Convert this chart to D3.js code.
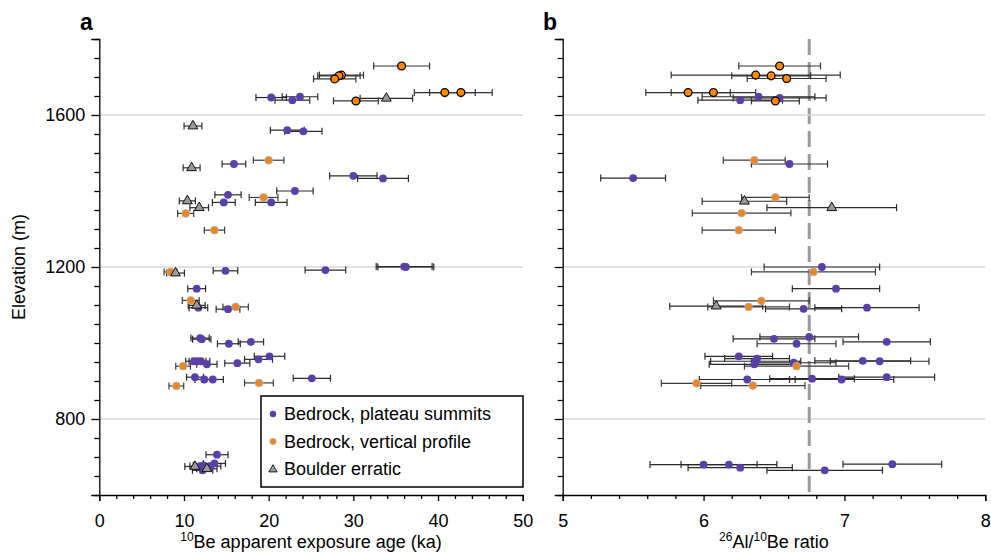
<!DOCTYPE html>
<html>
<head>
<meta charset="utf-8">
<script src="https://cdn.jsdelivr.net/npm/d3@7"></script>
<style>
  body { margin: 0; background: #fff; }
  text { font-family: "Liberation Sans", Arial, sans-serif; }
</style>
</head>
<body>
<div class="chart"></div>
<script>
// Data: [value, elevation (m), uncertainty]

// Panel a: 10Be apparent exposure age (ka)
const plateauA = [
  [20.3, 1646, 1.8], [23.7, 1648, 2.1], [22.8, 1639, 2.05],
  [22.2, 1560, 2.0], [24.1, 1557, 2.2],
  [15.9, 1471, 1.4], [30.0, 1440, 2.8], [33.5, 1433, 3.0],
  [23.1, 1400, 2.15], [15.2, 1390, 1.55], [14.7, 1370, 1.35], [20.3, 1370, 1.87],
  [14.9, 1190, 1.45], [26.7, 1192, 2.4], [36.0, 1201, 3.3], [36.2, 1200, 3.3],
  [11.5, 1143, 1.05], [11.7, 1093, 1.1], [15.2, 1089, 1.4],
  [11.9, 1013, 1.08], [12.1, 1010, 1.08], [15.3, 998, 1.35], [17.9, 1003, 1.5],
  [20.1, 965, 1.8], [18.8, 957, 1.65], [16.3, 947, 1.48],
  [11.2, 952, 1.0], [11.6, 952, 1.0], [12.0, 952, 1.05], [12.7, 944, 1.2],
  [11.3, 910, 1.0], [12.4, 904, 1.1], [13.4, 904, 1.25], [25.1, 907, 2.2],
  [13.9, 706, 1.3], [13.6, 683, 1.3], [13.1, 676, 1.25], [12.3, 678, 1.2],
  [11.9, 676, 1.2], [12.2, 665, 1.2]
];
const profileA = [
  [20.0, 1481, 1.8], [19.4, 1383, 1.7], [10.2, 1341, 0.95], [13.6, 1297, 1.2],
  [8.4, 1187, 0.75], [10.8, 1112, 1.0], [16.1, 1095, 1.5], [9.9, 939, 0.87],
  [9.1, 887, 0.87], [18.85, 895, 1.7]
];
const profileTopA = [
  [35.7, 1729, 3.3], [28.6, 1705, 2.6], [28.3, 1703, 2.5], [27.8, 1695, 2.5],
  [40.8, 1659, 3.6], [42.7, 1659, 3.7], [30.3, 1637, 2.65]
];
const boulderA = [
  [33.9, 1644, 3.1], [11.06, 1571, 1.05], [10.9, 1461, 1.0], [10.4, 1374, 0.95],
  [11.8, 1356, 1.1], [9.0, 1184, 1.05], [11.5, 1099, 1.0], [11.3, 675, 1.2],
  [12.7, 669, 1.2]
];

// Panel b: 26Al/10Be ratio
const plateauB = [
  [6.39, 1648, 0.40], [6.54, 1645, 0.33], [6.26, 1639, 0.30],
  [6.61, 1471, 0.27], [5.50, 1434, 0.23], [6.84, 1200, 0.41], [6.94, 1143, 0.31],
  [6.71, 1090, 0.27], [7.16, 1093, 0.37], [6.50, 1011, 0.29], [6.75, 1016, 0.35],
  [6.66, 998, 0.28], [7.30, 1003, 0.31], [6.25, 965, 0.24], [6.38, 959, 0.23],
  [6.37, 952, 0.32], [6.36, 944, 0.32], [6.64, 948, 0.30], [7.13, 953, 0.34],
  [7.25, 952, 0.35], [6.31, 904, 0.34], [6.77, 906, 0.30], [6.98, 904, 0.37],
  [7.30, 910, 0.34], [6.00, 680, 0.38], [6.18, 680, 0.34], [6.26, 672, 0.37],
  [6.86, 665, 0.41], [7.34, 681, 0.35]
];
const profileB = [
  [6.36, 1481, 0.22], [6.51, 1383, 0.24], [6.27, 1342, 0.35], [6.25, 1297, 0.26],
  [6.78, 1187, 0.44], [6.41, 1111, 0.34], [6.32, 1095, 0.29], [6.66, 939, 0.37],
  [5.95, 894, 0.25], [6.35, 888, 0.37]
];
const profileTopB = [
  [6.54, 1729, 0.29], [6.37, 1705, 0.60], [6.48, 1703, 0.28], [6.59, 1696, 0.28],
  [5.89, 1659, 0.30], [6.07, 1659, 0.30], [6.51, 1637, 0.17]
];
const boulderB = [
  [6.29, 1373, 0.30], [6.91, 1356, 0.46], [6.09, 1097, 0.33]
];

const elevTicks = d3.range(600, 1801, 50);
const elevLabels = [800, 1200, 1600];
const ageTicks = d3.range(0, 50.1, 2);
const ageLabels = [0, 10, 20, 30, 40, 50];
const ratioTicks = d3.range(5, 8.01, 0.2).map((d) => +d.toFixed(1));
const ratioLabels = [5, 6, 7, 8];
const ratioRef = 6.75;
const legendItems = ["Bedrock, plateau summits", "Bedrock, vertical profile", "Boulder erratic"];

// Measurements
const width = 991;
const height = 553;
const purple = "#5940a8";
const orange = "#ec8524";

const svg = d3
  .select(".chart")
  .append("svg")
  .attr("width", width)
  .attr("height", height);

svg.append("rect").attr("width", width).attr("height", height).attr("fill", "#fff");

const y = d3.scaleLinear().domain([600, 1800]).range([495, 39]);
const xA = d3.scaleLinear().domain([0, 50]).range([99.3, 522.7]);
const xB = d3.scaleLinear().domain([5, 8]).range([562.7, 985.3]);

function drawPanel(x, ticks, labels, showYLabels) {
  const [x0, x1] = x.range();
  const g = svg.append("g");

  // gridlines
  g.selectAll(".grid")
    .data(elevLabels)
    .enter()
    .append("line")
    .attr("x1", x0)
    .attr("x2", x1)
    .attr("y1", (d) => y(d))
    .attr("y2", (d) => y(d))
    .attr("stroke", "#d9d9d9")
    .attr("stroke-width", 1.5);

  // y axis
  const yAxis = g
    .append("g")
    .attr("transform", `translate(${x0},0)`)
    .call(
      d3.axisLeft(y)
        .tickValues(elevTicks)
        .tickSizeOuter(0)
        .tickSize(8)
        .tickPadding(6)
        .tickFormat((d) => (showYLabels && elevLabels.includes(d) ? d : ""))
    );
  yAxis.selectAll(".tick line")
    .attr("x2", (d) => (elevLabels.includes(d) ? -8 : -5));

  // x axis
  const xAxis = g
    .append("g")
    .attr("transform", `translate(0,${y.range()[0]})`)
    .call(
      d3.axisBottom(x)
        .tickValues(ticks)
        .tickSizeOuter(0)
        .tickSize(6)
        .tickPadding(13)
        .tickFormat((d) => (labels.includes(d) ? d : ""))
    );
  xAxis.selectAll(".tick line")
    .attr("y2", (d) => (labels.includes(d) ? 6 : 4));

  [yAxis, xAxis].forEach((ax) => {
    ax.selectAll("path, line").attr("stroke", "#000").attr("stroke-width", 1.3);
    ax.selectAll("text")
      .attr("fill", "#000")
      .style("font-size", "18px")
      .style("font-family", '"Liberation Sans", Arial, sans-serif');
  });
  return g;
}

function drawBars(g, x, data, color) {
  const bars = g.append("g").attr("stroke", color).attr("stroke-width", 1.2);
  data.forEach((d) => {
    const yy = y(d[1]);
    const a = x(d[0] - d[2]);
    const b = x(d[0] + d[2]);
    bars.append("line").attr("x1", a).attr("x2", b).attr("y1", yy).attr("y2", yy);
    bars.append("line").attr("x1", a).attr("x2", a).attr("y1", yy - 3.5).attr("y2", yy + 3.5);
    bars.append("line").attr("x1", b).attr("x2", b).attr("y1", yy - 3.5).attr("y2", yy + 3.5);
  });
}

function drawDots(g, x, data, fill, stroke, sw) {
  g.append("g")
    .selectAll("circle")
    .data(data)
    .enter()
    .append("circle")
    .attr("cx", (d) => x(d[0]))
    .attr("cy", (d) => y(d[1]))
    .attr("r", 3.9)
    .attr("fill", fill)
    .attr("stroke", stroke)
    .attr("stroke-width", sw);
}

const tri = d3.symbol().type(d3.symbolTriangle).size(42);

function drawTriangles(g, x, data) {
  g.append("g")
    .selectAll("path")
    .data(data)
    .enter()
    .append("path")
    .attr("d", tri)
    .attr("transform", (d) => `translate(${x(d[0])},${y(d[1])})`)
    .attr("fill", "#9a9a9a")
    .attr("stroke", "#111")
    .attr("stroke-width", 1);
}

function drawSeries(g, x, plateau, profile, boulder, top) {
  drawBars(g, x, plateau, "#2a2a2a");
  drawBars(g, x, profile, "#3a3a3a");
  drawBars(g, x, boulder, "#2a2a2a");
  drawBars(g, x, top, "#333");
  drawDots(g, x, plateau, purple, "none", 0);
  drawDots(g, x, profile, orange, "#b5b5b5", 0.8);
  drawTriangles(g, x, boulder);
  drawDots(g, x, top, "#ff8800", "#000", 1.3);
}

// Panel a
const gA = drawPanel(xA, ageTicks, ageLabels, true);
drawSeries(gA, xA, plateauA, profileA, boulderA, profileTopA);

// Panel b
const gB = drawPanel(xB, ratioTicks, ratioLabels, false);
gB.insert("line", ":nth-child(2)")
  .attr("x1", xB(ratioRef))
  .attr("x2", xB(ratioRef))
  .attr("y1", y(1800))
  .attr("y2", y(600))
  .attr("stroke", "#9a9a9a")
  .attr("stroke-width", 3)
  .attr("stroke-dasharray", "16,7");
drawSeries(gB, xB, plateauB, profileB, boulderB, profileTopB);

// Panel labels
svg.append("text").attr("x", 80).attr("y", 30).text("a")
  .style("font-size", "23px").style("font-weight", "bold");
svg.append("text").attr("x", 543).attr("y", 30).text("b")
  .style("font-size", "23px").style("font-weight", "bold");

// Axis titles
svg.append("text")
  .attr("transform", `translate(25,${(y(600) + y(1800)) / 2}) rotate(-90)`)
  .attr("text-anchor", "middle")
  .style("font-size", "18px")
  .text("Elevation (m)");

const tA = svg.append("text")
  .attr("x", (xA.range()[0] + xA.range()[1]) / 2)
  .attr("y", 548)
  .attr("text-anchor", "middle")
  .style("font-size", "18px");
tA.append("tspan").attr("dy", -7).style("font-size", "12px").text("10");
tA.append("tspan").attr("dy", 7).text("Be apparent exposure age (ka)");

const tB = svg.append("text")
  .attr("x", (xB.range()[0] + xB.range()[1]) / 2)
  .attr("y", 548)
  .attr("text-anchor", "middle")
  .style("font-size", "18px");
tB.append("tspan").attr("dy", -7).style("font-size", "12px").text("26");
tB.append("tspan").attr("dy", 7).text("Al/");
tB.append("tspan").attr("dy", -7).style("font-size", "12px").text("10");
tB.append("tspan").attr("dy", 7).text("Be ratio");

// Legend
const legend = svg.append("g").attr("class", "legend");
legend.append("rect")
  .attr("x", 261).attr("y", 396).attr("width", 262).attr("height", 91)
  .attr("fill", "#fff").attr("stroke", "#000").attr("stroke-width", 1.5);

legend.selectAll("text")
  .data(legendItems)
  .enter()
  .append("text")
  .attr("x", 284)
  .attr("y", (d, i) => 414 + i * 27.5)
  .attr("dy", "0.35em")
  .style("font-size", "18px")
  .text((d) => d);

legend.append("circle").attr("cx", 273).attr("cy", 414).attr("r", 3.2).attr("fill", purple);
legend.append("circle").attr("cx", 273).attr("cy", 441.5).attr("r", 3.2)
  .attr("fill", orange).attr("stroke", "#b5b5b5").attr("stroke-width", 0.6);
legend.append("path")
  .attr("d", d3.symbol().type(d3.symbolTriangle).size(30))
  .attr("transform", "translate(273,469.5)")
  .attr("fill", "#9a9a9a").attr("stroke", "#111").attr("stroke-width", 0.9);
</script>
</body>
</html>
